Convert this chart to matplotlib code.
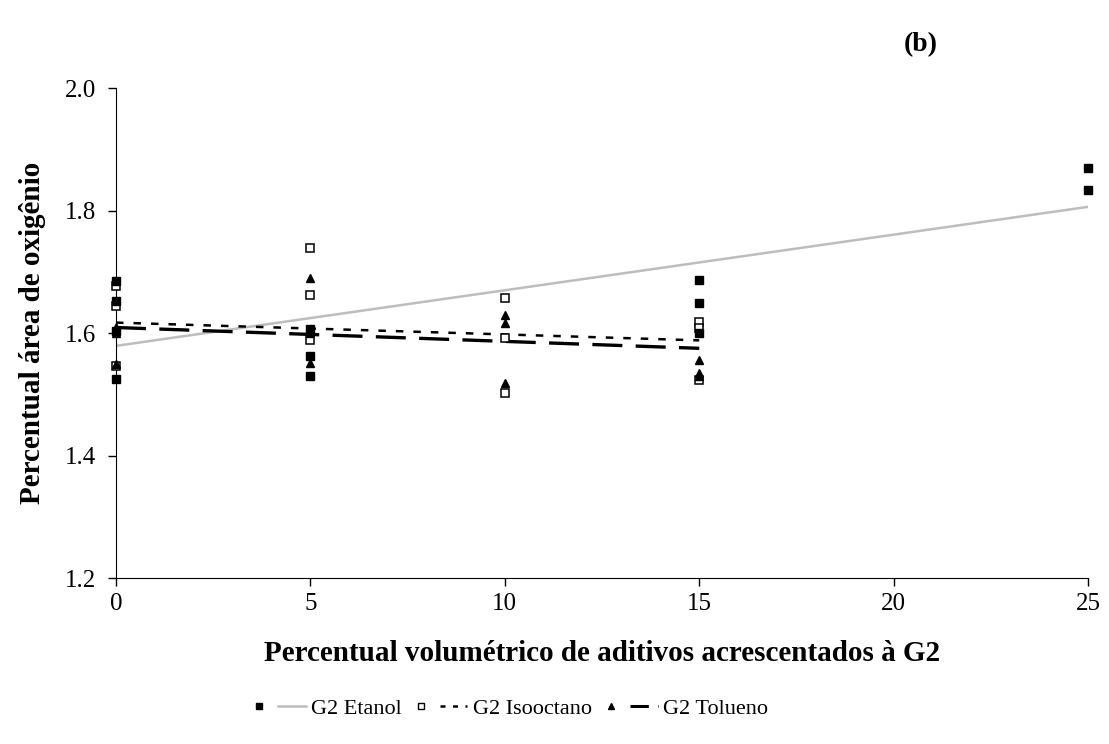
import matplotlib.pyplot as plt
from matplotlib.lines import Line2D
from matplotlib.legend_handler import HandlerTuple

# data
etanol_x = [0, 0, 0, 0, 5, 5, 5, 15, 15, 15, 25, 25]
etanol_y = [1.685, 1.652, 1.603, 1.525, 1.606, 1.562, 1.530, 1.686, 1.649, 1.600, 1.869, 1.833]

isooctano_x = [0, 0, 0, 5, 5, 5, 10, 10, 10, 15, 15, 15]
isooctano_y = [1.677, 1.644, 1.546, 1.739, 1.662, 1.588, 1.657, 1.592, 1.502, 1.618, 1.608, 1.523]

tolueno_x = [0, 0, 0, 5, 5, 5, 10, 10, 10, 15, 15, 15]
tolueno_y = [1.610, 1.600, 1.550, 1.690, 1.600, 1.551, 1.629, 1.616, 1.518, 1.556, 1.535, 1.530]

# linear trend lines (start / end values)
etanol_trend_x = [0, 25]
etanol_trend_y = [1.579, 1.806]
isooctano_trend_x = [0, 15]
isooctano_trend_y = [1.617, 1.588]
tolueno_trend_x = [0, 15]
tolueno_trend_y = [1.609, 1.575]

xticks = [0, 5, 10, 15, 20, 25]
yticks = [1.2, 1.4, 1.6, 1.8, 2.0]

plt.rcParams["font.family"] = ["Liberation Serif", "DejaVu Serif"]

fig = plt.figure(figsize=(11.09, 7.44), dpi=100)
ax = fig.add_axes([0.1046, 0.2231, 0.8765, 0.6586])

# trend lines
ax.plot(etanol_trend_x, etanol_trend_y, color="#bdbdbd", lw=1.8, zorder=2)
ax.plot(isooctano_trend_x, isooctano_trend_y, color="black", lw=1.8,
        dashes=(3, 4), zorder=2)
ax.plot(tolueno_trend_x, tolueno_trend_y, color="black", lw=2.4,
        dashes=(9, 4), zorder=2)

# markers
ms = 5.5
ax.plot(etanol_x, etanol_y, ls="none", marker="s", ms=ms, color="black",
        clip_on=False, zorder=4)
ax.plot(isooctano_x, isooctano_y, ls="none", marker="s", ms=ms, mfc="white",
        mec="black", mew=1.1, clip_on=False, zorder=3)
ax.plot(tolueno_x, tolueno_y, ls="none", marker="^", ms=ms + 0.5, color="black",
        clip_on=False, zorder=4)

ax.set_xlim(0, 25)
ax.set_ylim(1.2, 2.0)
ax.set_xticks(xticks)
ax.set_yticks(yticks)
ax.set_yticklabels([f"{v:.1f}" for v in yticks])
ax.tick_params(axis="both", labelsize=18, direction="out", length=6, width=1)
ax.tick_params(axis="x", pad=5)
ax.tick_params(axis="y", pad=8)
ax.spines["top"].set_visible(False)
ax.spines["right"].set_visible(False)

ax.set_xlabel("Percentual volumétrico de aditivos acrescentados à G2",
              fontsize=21, fontweight="bold", labelpad=18)
ax.set_ylabel("Percentual área de oxigênio", fontsize=21, fontweight="bold",
              labelpad=14)

fig.text(0.815, 0.94, "(b)", fontsize=20, fontweight="bold", va="center")

# legend: marker to the left of the line sample
h_et = (Line2D([], [], ls="none", marker="s", ms=4.5, color="black"),
        Line2D([], [], color="#bdbdbd", lw=1.8))
h_iso = (Line2D([], [], ls="none", marker="s", ms=4.5, mfc="white", mec="black"),
         Line2D([], [], color="black", lw=1.8, dashes=(2, 3)))
h_tol = (Line2D([], [], ls="none", marker="^", ms=5, color="black"),
         Line2D([], [], color="black", lw=2.2, dashes=(6, 3)))
fig.legend([h_et, h_iso, h_tol], ["G2 Etanol", "G2 Isooctano", "G2 Tolueno"],
           handler_map={tuple: HandlerTuple(ndivide=None, pad=0.2)},
           loc="center", bbox_to_anchor=(0.457, 0.048), ncol=3, frameon=False,
           fontsize=16, handlelength=2.7, handletextpad=0.25, columnspacing=0.25)

plt.savefig("out.png", dpi=100)
